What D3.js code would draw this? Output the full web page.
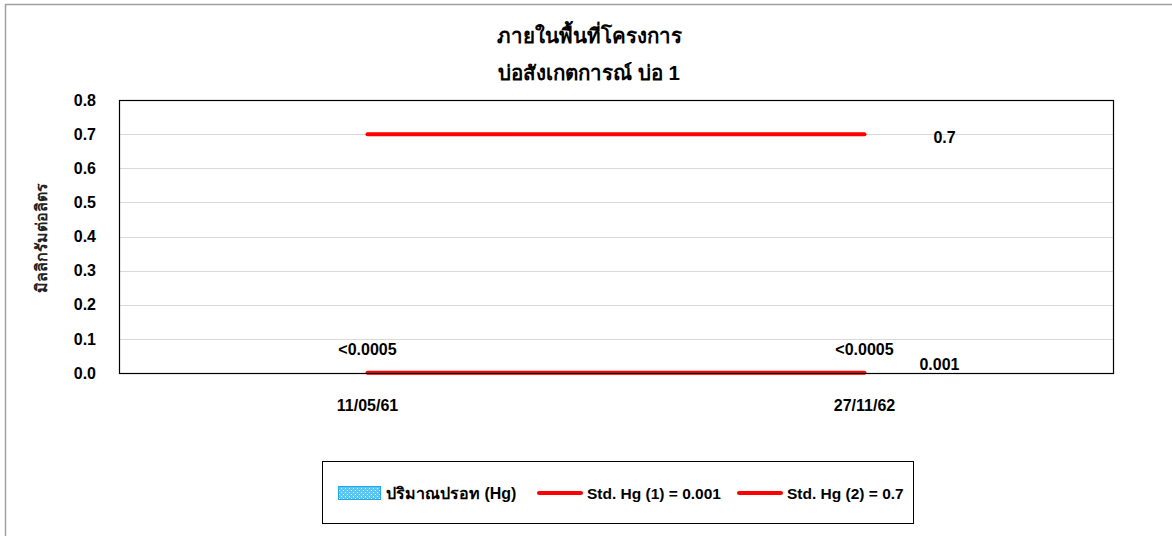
<!DOCTYPE html>
<html>
<head>
<meta charset="utf-8">
<script src="https://cdn.jsdelivr.net/npm/d3@7"></script>
<style>
  body { margin: 0; background: #fff; }
  svg text { font-family: "Liberation Sans", Arial, "Noto Sans", sans-serif; font-weight: bold; fill: #000; }
</style>
</head>
<body>
<div id="chart"></div>
<script>
// data
var categories = ['11/05/61', '27/11/62'];
var hgValues = [0, 0];
var hgLabels = ['<0.0005', '<0.0005'];
var std1Values = [0.001, 0.001];
var std2Values = [0.7, 0.7];
var yTicks = [0, 0.1, 0.2, 0.3, 0.4, 0.5, 0.6, 0.7, 0.8];
var titleLines = ['ภายในพื้นที่โครงการ', 'บ่อสังเกตการณ์ บ่อ 1'];
var yTitle = 'มิลลิกรัมต่อลิตร';
var legendNames = ['ปริมาณปรอท (Hg)', 'Std. Hg (1) = 0.001', 'Std. Hg (2) = 0.7'];

var W = 1172, H = 536;
var margin = {top: 100, right: 59, bottom: 163, left: 119},
    width = W - margin.left - margin.right,
    height = H - margin.top - margin.bottom;

var svg = d3.select('#chart').append('svg')
    .attr('width', W)
    .attr('height', H);

var defs = svg.append('defs');
var pat = defs.append('pattern')
    .attr('id', 'dots')
    .attr('width', 4).attr('height', 4)
    .attr('patternUnits', 'userSpaceOnUse');
pat.append('rect').attr('width', 4).attr('height', 4).attr('fill', '#5cc6f0');
pat.append('rect').attr('x', 1).attr('y', 1).attr('width', 1).attr('height', 1).attr('fill', '#ffffff');
pat.append('rect').attr('x', 3).attr('y', 3).attr('width', 1).attr('height', 1).attr('fill', '#d8f2fc');

// outer chart border (only top/left visible)
svg.append('path')
    .attr('d', 'M5.5,' + (H + 2) + 'V4.5H' + (W + 2))
    .attr('fill', 'none')
    .attr('stroke', '#a0a0a0')
    .attr('stroke-width', 1.5);

// titles
svg.selectAll('.title')
    .data(titleLines)
    .enter().append('text')
    .attr('class', 'title')
    .attr('x', 589)
    .attr('y', function(d, i) { return 43 + i * 37; })
    .attr('text-anchor', 'middle')
    .style('font-size', '20.5px')
    .text(function(d) { return d; });

var xScale = d3.scaleBand().domain(categories).range([0, width]);
var yScale = d3.scaleLinear().domain([0, 0.8]).range([height, 0]);
var xc = function(d) { return xScale(d) + xScale.bandwidth() / 2; };

var g = svg.append('g')
    .attr('transform', 'translate(' + margin.left + ',' + margin.top + ')');

// gridlines
g.append('g').selectAll('line')
    .data(yTicks.slice(1, -1))
    .enter().append('line')
    .attr('x1', 0).attr('x2', width)
    .attr('y1', function(d) { return Math.round(yScale(d)) + 0.5; })
    .attr('y2', function(d) { return Math.round(yScale(d)) + 0.5; })
    .attr('stroke', '#d9d9d9')
    .attr('stroke-width', 1);

// y axis labels
var yAxis = g.append('g')
    .call(d3.axisLeft(yScale).tickValues(yTicks).tickFormat(d3.format('.1f')).tickSize(0).tickPadding(23));
yAxis.select('.domain').remove();
yAxis.selectAll('text').style('font-size', '16px').attr('font-family', null);

// x axis labels
var xAxis = g.append('g')
    .attr('transform', 'translate(0,' + height + ')')
    .call(d3.axisBottom(xScale).tickSize(0).tickPadding(27));
xAxis.select('.domain').remove();
xAxis.selectAll('text').style('font-size', '16px').attr('font-family', null);

// bars (Hg)
g.selectAll('.bar')
    .data(hgValues)
    .enter().append('rect')
    .attr('class', 'bar')
    .attr('x', function(d, i) { return xc(categories[i]) - 40; })
    .attr('width', 80)
    .attr('y', function(d) { return yScale(d); })
    .attr('height', function(d) { return height - yScale(d); })
    .attr('fill', 'url(#dots)');

// standard lines
var line = d3.line()
    .x(function(d, i) { return xc(categories[i]); })
    .y(function(d) { return yScale(d); });

[std1Values, std2Values].forEach(function(vals) {
    g.append('path')
        .datum(vals)
        .attr('d', line)
        .attr('fill', 'none')
        .attr('stroke', '#ff0000')
        .attr('stroke-width', 4)
        .attr('stroke-linecap', 'round');
});

// plot frame
g.append('rect')
    .attr('x', 0.5).attr('y', 0.5)
    .attr('width', width).attr('height', height)
    .attr('fill', 'none')
    .attr('stroke', '#000')
    .attr('stroke-width', 1.2);

// data labels
g.selectAll('.hglab')
    .data(hgLabels)
    .enter().append('text')
    .attr('x', function(d, i) { return xc(categories[i]); })
    .attr('y', function(d, i) { return yScale(hgValues[i]) - 18; })
    .attr('text-anchor', 'middle')
    .style('font-size', '16px')
    .text(function(d) { return d; });

// end labels of the standard lines (Excel puts them right of the last point)
[[std1Values, 75, -3], [std2Values, 80, 9]].forEach(function(s) {
    var vals = s[0], last = vals.length - 1;
    g.append('text')
        .attr('x', xc(categories[last]) + s[1])
        .attr('y', yScale(vals[last]) + s[2])
        .attr('text-anchor', 'middle')
        .style('font-size', '16px')
        .text(vals[last]);
});

// y title
svg.append('text')
    .attr('transform', 'translate(47,238) rotate(-90)')
    .attr('text-anchor', 'middle')
    .style('font-size', '16px')
    .style('fill', '#222')
    .text(yTitle);

// legend
var leg = svg.append('g');
leg.append('rect')
    .attr('x', 322.5).attr('y', 461.5)
    .attr('width', 591).attr('height', 62)
    .attr('fill', '#fff')
    .attr('stroke', '#000')
    .attr('stroke-width', 1);

var legX = [338, 537, 737];
var legItem = leg.selectAll('.legitem')
    .data(legendNames)
    .enter().append('g')
    .attr('transform', function(d, i) { return 'translate(' + legX[i] + ',493)'; });

legItem.each(function(d, i) {
    var el = d3.select(this);
    if (i === 0) {
        el.append('rect')
            .attr('x', 0.5).attr('y', -6.5)
            .attr('width', 42).attr('height', 13)
            .attr('fill', 'url(#dots)')
            .attr('stroke', '#1fa9e6')
            .attr('stroke-width', 1);
    } else {
        el.append('line')
            .attr('x1', 2).attr('x2', 44)
            .attr('y1', 0).attr('y2', 0)
            .attr('stroke', '#ff0000')
            .attr('stroke-width', 4)
            .attr('stroke-linecap', 'round');
    }
    el.append('text')
        .attr('x', i === 0 ? 48 : 50)
        .attr('y', 5.5)
        .style('font-size', i === 0 ? '16px' : '15.5px')
        .text(d);
});
</script>
</body>
</html>
